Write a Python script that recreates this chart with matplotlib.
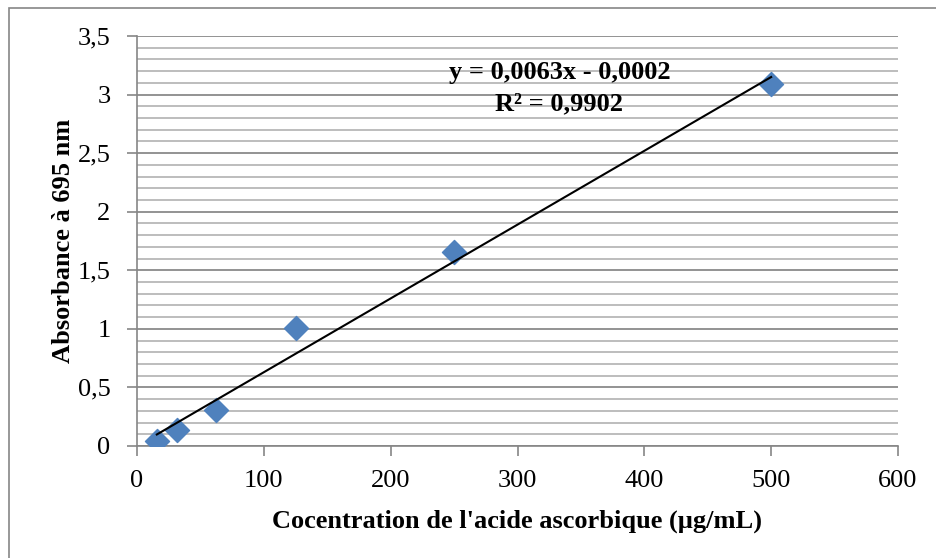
import numpy as np
import matplotlib.pyplot as plt
from matplotlib.patches import Rectangle
from matplotlib.ticker import MultipleLocator, FuncFormatter

# Ascorbic acid calibration (µg/mL vs absorbance at 695 nm)
concentration = [15.625, 31.25, 62.5, 125, 250, 500]
absorbance = [0.043, 0.137, 0.307, 1.005, 1.655, 3.09]

slope = 0.0063
intercept = -0.0002
r_squared = 0.9902

plt.rcParams['font.family'] = ['Liberation Serif', 'DejaVu Serif']

fig = plt.figure(figsize=(9.36, 5.58), dpi=100)
ax = fig.add_axes([137 / 936, 112 / 558, 761 / 936, 410 / 558])

# outer chart border
fig.patches.append(Rectangle((9 / 936, -0.01), 1.0, (551 + 5.6) / 558 - 0.001,
                             transform=fig.transFigure, fill=False,
                             edgecolor='#868686', linewidth=1.2))

ax.set_xlim(0, 600)
ax.set_ylim(0, 3.5)
ax.xaxis.set_major_locator(MultipleLocator(100))
ax.yaxis.set_major_locator(MultipleLocator(0.5))
ax.yaxis.set_minor_locator(MultipleLocator(0.1))
ax.yaxis.set_major_formatter(FuncFormatter(lambda v, p: f'{v:g}'.replace('.', ',')))

ax.grid(which='major', axis='y', color='#8a8a8a', linewidth=1.3)
ax.grid(which='minor', axis='y', color='#b8b8b8', linewidth=1.3)
ax.grid(which='major', axis='x', visible=False)
ax.set_axisbelow(True)

for side in ['top', 'right']:
    ax.spines[side].set_visible(False)
for side in ['left', 'bottom']:
    ax.spines[side].set_color('#868686')
    ax.spines[side].set_linewidth(1.2)

ax.tick_params(axis='both', which='major', color='#868686', width=1.2, length=7,
               labelsize=19)
ax.tick_params(axis='x', which='major', pad=10)
ax.tick_params(axis='y', which='major', pad=12)
ax.tick_params(axis='y', which='minor', length=0)

ax.scatter(concentration, absorbance, marker='D', s=150, color='#4f81bd',
           edgecolors='#4f81bd', zorder=3)

xfit = np.array([min(concentration), max(concentration)])
ax.plot(xfit, slope * xfit + intercept, color='black', linewidth=1.5, zorder=4)

eq = f'y = {slope:.4f}x - {abs(intercept):.4f}'.replace('.', ',')
r2 = f'R² = {r_squared:.4f}'.replace('.', ',')
ax.text(333, 3.056, eq + '\n' + r2, ha='center', va='center', fontsize=19,
        fontweight='bold', linespacing=1.45)

ax.set_xlabel("Cocentration de l'acide ascorbique (µg/mL)", fontsize=19,
              fontweight='bold', labelpad=13)
ax.set_ylabel('Absorbance à 695 nm', fontsize=19, fontweight='bold', labelpad=2)

fig.savefig('out.png', dpi=100)
